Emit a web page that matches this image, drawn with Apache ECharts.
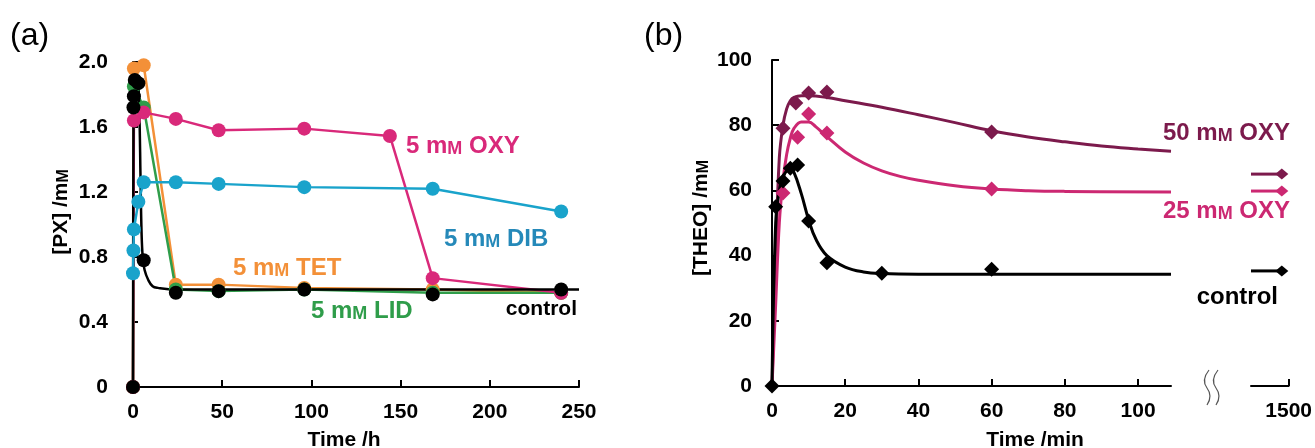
<!DOCTYPE html>
<html>
<head>
<meta charset="utf-8">
<script src="https://cdn.jsdelivr.net/npm/echarts@6/dist/echarts.min.js"></script>
<style>
  html, body { margin: 0; padding: 0; background: #fff; }
  #chart { width: 1315px; height: 448px; }
</style>
</head>
<body>
<div id="chart"></div>
<script>
// ---- panel (a): [PX] vs time (h) ----
const tet = [[0, 0], [0.5, 1.96], [6, 1.98], [24, 0.63], [48, 0.63], [96, 0.61], [168, 0.60], [240, 0.58]]
const lid = [[0, 0], [0.5, 1.85], [6, 1.72], [24, 0.60], [48, 0.59], [96, 0.60], [168, 0.58], [240, 0.58]]
const oxy5 = [[0, 0], [0.5, 1.64], [6, 1.69], [24, 1.65], [48, 1.58], [96, 1.59], [144, 1.545], [168, 0.67], [240, 0.58]]
const dib = [[0, 0.70], [0.25, 0.84], [0.5, 0.97], [3, 1.14], [6, 1.26], [24, 1.26], [48, 1.25], [96, 1.23], [168, 1.22], [240, 1.08]]
const ctrlA = [[0, 0], [0.25, 1.72], [0.5, 1.79], [1, 1.89], [3, 1.87], [6, 0.78], [24, 0.58], [48, 0.59], [96, 0.60], [168, 0.57], [240, 0.60]]
// fitted control curve
const ctrlAFit = [[0, 0], [0.3, 1.6], [1, 1.86], [2.5, 1.86], [3.5, 1.7], [4.2, 1.3], [4.8, 0.95], [5.5, 0.79], [6.5, 0.72], [8.5, 0.66], [11, 0.62], [14, 0.61], [24, 0.6], [250, 0.6]]

// ---- panel (b): [THEO] vs time (min) ----
const oxy50 = [[3, 79.1], [6.5, 86.8], [10, 89.9], [15, 90.2], [60, 77.9]]
const oxy25 = [[3, 59.2], [7, 76.3], [10, 83.4], [15, 77.6], [60, 60.4]]
const ctrlB = [[0, 0], [1, 55], [3, 62.9], [5, 66.8], [7, 67.8], [10, 50.6], [15, 37.8], [30, 34.6], [60, 35.8]]
const oxy50Fit = [[0, 0], [1, 40], [2, 70], [3, 80], [4, 85], [5, 87.5], [6, 88.5], [8, 89], [10, 89], [15, 88.5], [20, 87.5], [30, 85.5], [40, 83.2], [50, 80.8], [60, 78.3], [70, 76.4], [80, 74.9], [90, 73.6], [100, 72.7], [109, 72]]
const oxy25Fit = [[0, 0], [1, 25], [2, 50], [3, 63], [4, 71], [5, 76], [6, 79], [8, 81], [10, 81], [12, 79.5], [15, 76.5], [20, 71.8], [25, 68.4], [30, 66], [35, 64.3], [40, 63.1], [50, 61.4], [60, 60.4], [70, 59.9], [80, 59.7], [109, 59.5]]
const ctrlBFit = [[0, 0], [1, 50], [2, 60], [3, 64], [4, 66], [5, 66.5], [6, 65.5], [8, 59], [10, 51], [12, 45], [15, 40], [20, 36.5], [25, 35], [30, 34.5], [40, 34.3], [109, 34.3]]
// after the axis break (24 h point)
const lateTime = 1498
const oxy50Late = 65.0
const oxy25Late = 59.8
const ctrlBLate = 35.3

const FONT = 'Liberation Sans'
const C = {
  tet: '#f39038', lid: '#2f9d4a', oxy5: '#d9297a', dib: '#19a3cb', dibText: '#2589b9',
  oxy50: '#7c1a4c', oxy25: '#cc2872', black: '#000'
}

const chart = echarts.init(document.getElementById('chart'))

const tickLabel = { color: '#000', fontSize: 21, fontWeight: 'bold', fontFamily: FONT }
const axisLine = { show: true, onZero: false, lineStyle: { color: '#000', width: 2 } }

const lab = (text, color, x, y, size, align) => ({
  type: 'text', x: x, y: y, z: 100,
  style: {
    text: text, fill: color, fontSize: size, fontWeight: 'bold', fontFamily: FONT,
    align: align || 'left', verticalAlign: 'middle',
    rich: { s: { fontSize: Math.round(size * 0.74), fontWeight: 'bold', fontFamily: FONT, fill: color, verticalAlign: 'bottom' } }
  }
})

const lineS = (data, color, xi, w) => ({
  type: 'line', data: data, xAxisIndex: xi, yAxisIndex: xi, clip: false,
  symbol: 'circle', symbolSize: 14, showAllSymbol: true,
  lineStyle: { color: color, width: w || 2.5 }, itemStyle: { color: color, opacity: 1 }
})
const curveS = (data, color, xi, w) => ({
  type: 'line', data: data, xAxisIndex: xi, yAxisIndex: xi, clip: false,
  symbol: 'none', smooth: 0.4, lineStyle: { color: color, width: w || 2.5 }
})
const dotS = (data, color, xi, symbol, size) => ({
  type: 'scatter', data: data, xAxisIndex: xi, yAxisIndex: xi, clip: false, z: 4,
  symbol: symbol, symbolSize: size, itemStyle: { color: color, opacity: 1 }
})
const squiggle = (x) => ({
  type: 'group', children: [
    { type: 'bezierCurve', shape: { x1: x, y1: 370, cpx1: x - 8, cpy1: 380, x2: x - 2, y2: 388 }, style: { fill: 'none', stroke: '#555', lineWidth: 1.2 } },
    { type: 'bezierCurve', shape: { x1: x - 2, y1: 388, cpx1: x + 4, cpy1: 396, x2: x - 2, y2: 405 }, style: { fill: 'none', stroke: '#555', lineWidth: 1.2 } }
  ]
})

const option = {
  animation: false,
  backgroundColor: '#fff',
  grid: [
    { left: 133, top: 62, width: 446, height: 325 },
    { left: 772, top: 60, width: 399, height: 326 },
    { left: 1251, top: 60, width: 39, height: 326 }
  ],
  xAxis: [
    {
      type: 'value', gridIndex: 0, min: 0, max: 250, interval: 50,
      axisLine: axisLine, splitLine: { show: false },
      axisTick: { inside: true, length: 7, lineStyle: { width: 2, color: '#000' } },
      axisLabel: Object.assign({ margin: 15 }, tickLabel)
    },
    {
      type: 'value', gridIndex: 1, min: 0, max: 109,
      axisLine: axisLine, splitLine: { show: false },
      axisTick: { inside: true, length: 7, lineStyle: { width: 2, color: '#000' }, customValues: [0, 20, 40, 60, 80, 100] },
      axisLabel: Object.assign({ margin: 15, customValues: [0, 20, 40, 60, 80, 100] }, tickLabel)
    },
    {
      type: 'value', gridIndex: 2, min: 1489, max: 1500,
      axisLine: axisLine, splitLine: { show: false },
      axisTick: { inside: true, length: 7, lineStyle: { width: 2, color: '#000' }, customValues: [1500] },
      axisLabel: Object.assign({ margin: 15, customValues: [1500], formatter: v => String(v) }, tickLabel)
    }
  ],
  yAxis: [
    {
      type: 'value', gridIndex: 0, min: 0, max: 2.0, interval: 0.4,
      axisLine: axisLine, splitLine: { show: false },
      axisTick: { inside: true, length: 5, lineStyle: { width: 2, color: '#000' } },
      axisLabel: Object.assign({ margin: 25, formatter: v => v === 0 ? '0' : v.toFixed(1) }, tickLabel)
    },
    {
      type: 'value', gridIndex: 1, min: 0, max: 100, interval: 20,
      axisLine: axisLine, splitLine: { show: false },
      axisTick: { inside: true, length: 7, lineStyle: { width: 2, color: '#000' } },
      axisLabel: Object.assign({ margin: 20 }, tickLabel)
    },
    { type: 'value', gridIndex: 2, min: 0, max: 100, show: false }
  ],
  series: [
    lineS(tet, C.tet, 0),
    lineS(lid, C.lid, 0),
    lineS(oxy5, C.oxy5, 0),
    curveS(ctrlAFit, C.black, 0),
    lineS(dib, C.dib, 0),
    dotS(ctrlA, C.black, 0, 'circle', 14),

    curveS(oxy50Fit, C.oxy50, 1, 3),
    curveS(oxy25Fit, C.oxy25, 1, 3),
    curveS(ctrlBFit, C.black, 1, 3),
    dotS(oxy50, C.oxy50, 1, 'diamond', 15),
    dotS(oxy25, C.oxy25, 1, 'diamond', 15),
    dotS(ctrlB, C.black, 1, 'diamond', 15),

    curveS([[1489, oxy50Late], [lateTime, oxy50Late]], C.oxy50, 2, 3),
    curveS([[1489, oxy25Late], [lateTime, oxy25Late]], C.oxy25, 2, 3),
    curveS([[1489, ctrlBLate], [lateTime, ctrlBLate]], C.black, 2, 3),
    dotS([[lateTime, oxy50Late]], C.oxy50, 2, 'diamond', [13, 11]),
    dotS([[lateTime, oxy25Late]], C.oxy25, 2, 'diamond', [13, 11]),
    dotS([[lateTime, ctrlBLate]], C.black, 2, 'diamond', [13, 11])
  ],
  graphic: [
    { type: 'text', x: 10, y: 36, style: { text: '(a)', fontSize: 32, fontFamily: FONT, fill: '#000', verticalAlign: 'middle' } },
    { type: 'text', x: 644, y: 36, style: { text: '(b)', fontSize: 32, fontFamily: FONT, fill: '#000', verticalAlign: 'middle' } },

    lab('5 m{s|M} OXY', C.oxy5, 406, 146, 24),
    lab('5 m{s|M} DIB', C.dibText, 444, 239, 24),
    lab('5 m{s|M} TET', C.tet, 233, 268, 24),
    lab('5 m{s|M} LID', C.lid, 311, 311, 24),
    lab('control', C.black, 577, 309, 21, 'right'),

    lab('50 m{s|M} OXY', C.oxy50, 1290, 133, 24, 'right'),
    lab('25 m{s|M} OXY', C.oxy25, 1290, 211, 24, 'right'),
    lab('control', C.black, 1278, 297, 24, 'right'),

    lab('Time /h', C.black, 344, 440, 21, 'center'),
    lab('Time /min', C.black, 1035, 440, 21, 'center'),
    Object.assign(lab('[PX] /m{s|M}', C.black, 61, 212, 21, 'center'), { rotation: Math.PI / 2 }),
    Object.assign(lab('[THEO] /m{s|M}', C.black, 701, 218, 21, 'center'), { rotation: Math.PI / 2 }),

    // axis break marks
    squiggle(1209),
    squiggle(1218)
  ]
}

chart.setOption(option)
</script>
</body>
</html>
